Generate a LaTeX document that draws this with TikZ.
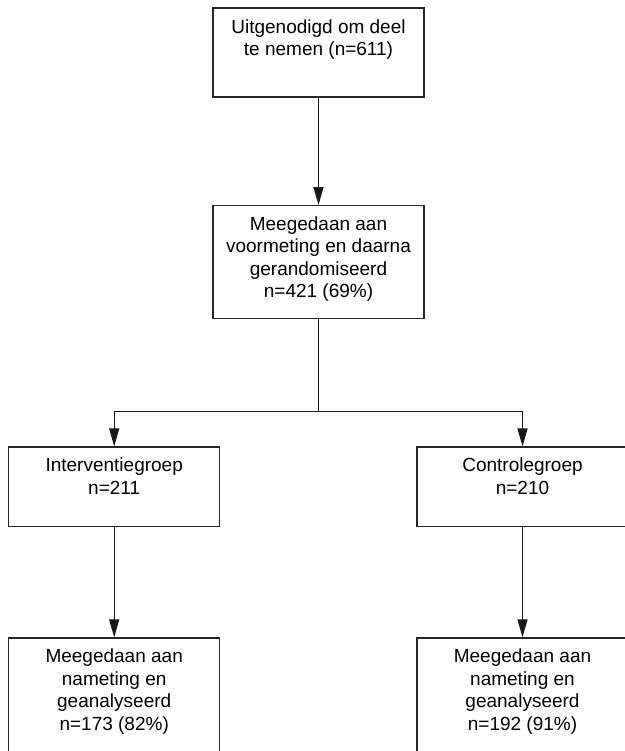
\documentclass[tikz,border=0pt]{standalone}
\usepackage{fontspec}
\setmainfont{Liberation Sans}
\usetikzlibrary{arrows.meta}
\begin{document}
\begin{tikzpicture}[x=1pt,y=-1pt,
  box/.style={draw=black!85, line width=1.3pt, rectangle, inner sep=0pt, minimum width=211pt},
  txt/.style={anchor=north, inner sep=0pt, align=center, font=\fontsize{19}{22.5}\selectfont},
  conn/.style={line width=1.1pt, draw=black!90},
  arr/.style={conn, -{Triangle[length=18pt,width=10pt]}}]
\useasboundingbox (0,0) rectangle (624,751);
% boxes
\node[box, minimum height=89pt] (b1) at (318.5,52.5) {};
\node[box, minimum height=112.6pt] (b2) at (318.5,262) {};
\node[box, minimum height=79.3pt] (bl) at (114.2,486.7) {};
\node[box, minimum height=79.3pt] (br) at (522.5,486.7) {};
\node[box, minimum height=124pt] (bbl) at (114.2,700) {};
\node[box, minimum height=124pt] (bbr) at (522.5,700) {};
% texts
\node[txt] (t1) at ([yshift=-12pt]b1.north) {Uitgenodigd om deel\\te nemen (n=611)};
\node[txt] (t2) at ([yshift=-11pt]b2.north) {Meegedaan aan\\voormeting en daarna\\gerandomiseerd\\n=421 (69\%)};
\node[txt] (tl) at ([yshift=-11.5pt]bl.north) {Interventiegroep\\n=211};
\node[txt] (tr) at ([yshift=-11.5pt]br.north) {Controlegroep\\n=210};
\node[txt] (tbl) at ([yshift=-11.5pt]bbl.north) {Meegedaan aan\\nameting en\\geanalyseerd\\n=173 (82\%)};
\node[txt] (tbr) at ([yshift=-11.5pt]bbr.north) {Meegedaan aan\\nameting en\\geanalyseerd\\n=192 (91\%)};
% connectors
\coordinate (split) at (318.5,411.7);
\draw[arr] (b1.south) -- (b2.north);
\draw[conn] (b2.south) -- (split);
\draw[arr] (split) -| (bl.north);
\draw[arr] (split) -| (br.north);
\draw[arr] (bl.south) -- (bbl.north);
\draw[arr] (br.south) -- (bbr.north);
\end{tikzpicture}
\end{document}
